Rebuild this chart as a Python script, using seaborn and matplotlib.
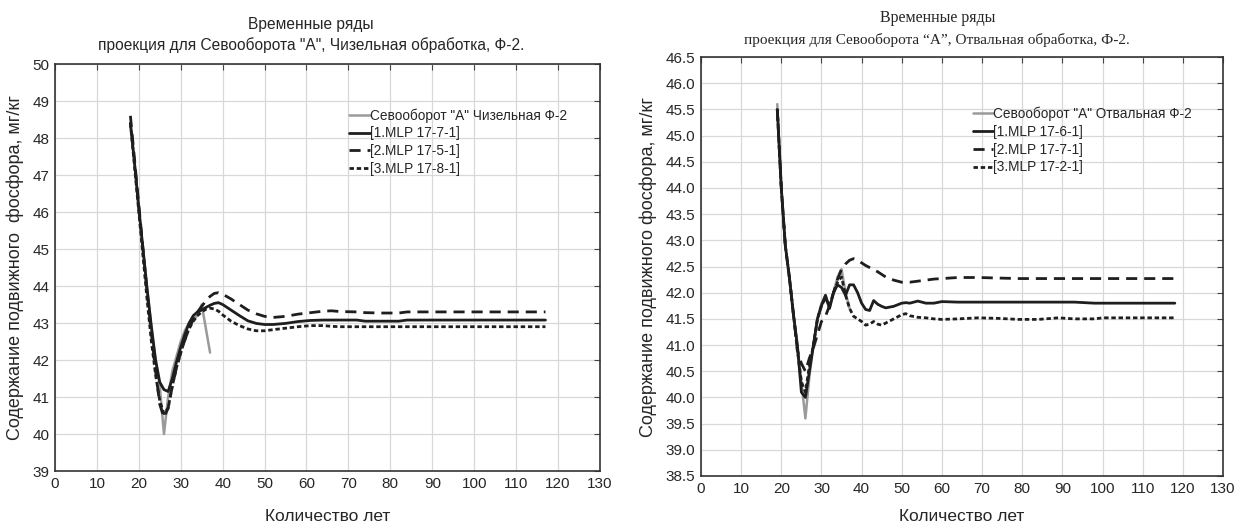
import numpy as np
import pandas as pd
import matplotlib
matplotlib.use("Agg")
import matplotlib.pyplot as plt
import seaborn as sns

# ─── DATA: left panel (Чизельная обработка) ───────────────
obs_left_x = list(range(18, 38))
obs_left_y = [48.4, 47.3, 46.1, 45.0, 43.9, 42.9, 42.0, 41.3, 40.0, 41.0,
              41.7, 42.1, 42.5, 42.8, 43.0, 43.1, 43.2, 43.5, 42.85, 42.2]

mlp_left_x = [18, 19, 20, 21, 22, 23, 24, 25, 26, 27, 28, 29, 30, 31, 32, 33,
              34, 35, 36, 37, 38, 39, 40, 42, 44, 46, 48, 50, 52, 55, 58, 61,
              64, 66, 68, 72, 74, 78, 82, 84, 90, 100, 110, 117]
mlp1_left = [48.4, 47.3, 46.1, 45.0, 43.9, 42.9, 42.0, 41.4, 41.2, 41.15, 41.5,
             41.95, 42.35, 42.7, 43.0, 43.2, 43.3, 43.35, 43.42, 43.48, 43.53,
             43.55, 43.5, 43.35, 43.2, 43.06, 42.99, 42.96, 42.96, 42.99, 43.04,
             43.07, 43.08, 43.08, 43.08, 43.08, 43.05, 43.05, 43.05, 43.08,
             43.08, 43.08, 43.08, 43.08]
mlp2_left = [48.6, 47.4, 46.2, 45.0, 43.8, 42.7, 41.7, 40.8, 40.45, 40.7, 41.3,
             41.8, 42.2, 42.55, 42.85, 43.1, 43.3, 43.45, 43.6, 43.72, 43.8,
             43.82, 43.78, 43.65, 43.5, 43.35, 43.25, 43.18, 43.15, 43.18, 43.24,
             43.28, 43.32, 43.33, 43.31, 43.3, 43.28, 43.27, 43.27, 43.3, 43.3,
             43.3, 43.3, 43.3]
mlp3_left = [48.4, 47.2, 46.0, 44.8, 43.6, 42.5, 41.6, 40.9, 40.55, 40.7, 41.3,
             41.8, 42.2, 42.55, 42.85, 43.05, 43.2, 43.3, 43.37, 43.4, 43.38,
             43.32, 43.22, 43.05, 42.93, 42.84, 42.79, 42.79, 42.82, 42.86, 42.9,
             42.93, 42.93, 42.91, 42.9, 42.9, 42.9, 42.9, 42.9, 42.9, 42.9,
             42.9, 42.9, 42.9]

# ─── DATA: right panel (Отвальная обработка) ──────────────
obs_right_x = list(range(19, 38))
obs_right_y = [45.6, 44.0, 42.9, 42.3, 41.6, 41.0, 40.3, 39.6, 40.4, 41.0,
               41.5, 41.8, 41.95, 41.7, 42.0, 42.3, 42.45, 42.0, 41.7]

mlp_right_x = [19, 20, 21, 22, 23, 24, 25, 26, 27, 28, 29, 30, 31, 32, 33, 34,
               35, 36, 37, 38, 39, 40, 41, 42, 43, 44, 45, 46, 48, 50, 51, 52,
               54, 56, 58, 60, 64, 69, 74, 79, 84, 89, 93, 98, 100, 110, 118]
mlp1_right = [45.5, 44.0, 42.9, 42.3, 41.6, 41.0, 40.1, 40.0, 40.5, 41.0, 41.5,
              41.75, 41.95, 41.7, 42.0, 42.15, 42.1, 41.95, 42.15, 42.15, 42.0,
              41.8, 41.68, 41.66, 41.85, 41.78, 41.74, 41.71, 41.74, 41.8, 41.81,
              41.8, 41.84, 41.8, 41.8, 41.83, 41.82, 41.82, 41.82, 41.82, 41.82,
              41.82, 41.82, 41.8, 41.8, 41.8, 41.8]
mlp2_right = [45.5, 44.0, 42.9, 42.3, 41.6, 40.9, 40.65, 40.5, 40.75, 40.95,
              41.2, 41.45, 41.55, 41.75, 42.0, 42.25, 42.45, 42.55, 42.62, 42.65,
              42.62, 42.57, 42.52, 42.48, 42.44, 42.4, 42.35, 42.3, 42.24, 42.2,
              42.2, 42.2, 42.22, 42.24, 42.26, 42.27, 42.29, 42.29, 42.28, 42.27,
              42.27, 42.27, 42.27, 42.27, 42.27, 42.27, 42.27]
mlp3_right = [45.5, 44.0, 42.9, 42.3, 41.6, 40.9, 40.3, 40.1, 40.6, 41.0, 41.5,
              41.75, 41.9, 41.75, 42.0, 42.2, 42.3, 41.95, 41.7, 41.55, 41.5,
              41.45, 41.38, 41.4, 41.45, 41.4, 41.38, 41.42, 41.5, 41.58, 41.6,
              41.56, 41.53, 41.52, 41.5, 41.49, 41.5, 41.52, 41.51, 41.49, 41.49,
              41.52, 41.5, 41.5, 41.52, 41.52, 41.52]

left_labels = ['Севооборот "А" Чизельная Ф-2', '[1.MLP 17-7-1]',
               '[2.MLP 17-5-1]', '[3.MLP 17-8-1]']
right_labels = ['Севооборот "А" Отвальная Ф-2', '[1.MLP 17-6-1]',
                '[2.MLP 17-7-1]', '[3.MLP 17-2-1]']

# ─── STYLE ────────────────────────────────────────────────
sns.set_style("whitegrid", {"grid.color": "#d8d8d8", "axes.edgecolor": "#333333",
                            "xtick.direction": "in", "ytick.direction": "in"})
SANS = ['Liberation Sans', 'DejaVu Sans']
SERIF = ['Liberation Serif', 'DejaVu Serif']
plt.rcParams['font.family'] = SANS

GREY = "#9a9a9a"
BLACK = "#1e1e1e"
DASH = (4, 2.5)
DOT = (1.6, 1.0)


def draw_panel(ax, ox, oy, mx, m1, m2, m3, labels):
    sns.lineplot(x=ox, y=oy, ax=ax, color=GREY, lw=1.8, label=labels[0])
    sns.lineplot(x=mx, y=m1, ax=ax, color=BLACK, lw=2.0, label=labels[1])
    l2 = sns.lineplot(x=mx, y=m2, ax=ax, color=BLACK, lw=2.0, label=labels[2]).lines[-1]
    l2.set_dashes(DASH)
    l3 = sns.lineplot(x=mx, y=m3, ax=ax, color=BLACK, lw=2.0, label=labels[3]).lines[-1]
    l3.set_dashes(DOT)
    ax.set_xlim(0, 130)
    ax.set_xticks(np.arange(0, 131, 10))
    for sp in ax.spines.values():
        sp.set_linewidth(1.2)
    ax.tick_params(axis='both', which='both', direction='in', length=4,
                   top=True, right=True, labelsize=11, color="#444444", pad=4)
    ax.grid(True, lw=0.9)


fig = plt.figure(figsize=(12.35, 5.29), dpi=100)
ax1 = fig.add_axes([0.0445, 0.1096, 0.4413, 0.7694])
ax2 = fig.add_axes([0.5676, 0.1002, 0.4227, 0.792])

draw_panel(ax1, obs_left_x, obs_left_y, mlp_left_x, mlp1_left, mlp2_left,
           mlp3_left, left_labels)
ax1.set_ylim(39, 50)
ax1.set_yticks(np.arange(39, 51, 1))

draw_panel(ax2, obs_right_x, obs_right_y, mlp_right_x, mlp1_right, mlp2_right,
           mlp3_right, right_labels)
ax2.set_ylim(38.5, 46.5)
ax2.set_yticks(np.arange(38.5, 46.6, 0.5))
ax2.yaxis.set_major_formatter(matplotlib.ticker.FormatStrFormatter('%.1f'))

# legends
for ax, anchor in [(ax1, (0.53, 0.905)), (ax2, (0.51, 0.895))]:
    ax.legend(loc='upper left', bbox_to_anchor=anchor, frameon=False,
              handlelength=1.5, handletextpad=0.0, labelspacing=0.28,
              borderaxespad=0, prop={'family': SANS, 'size': 9.8})

# titles
fig.text(0.252, 0.953, 'Временные ряды', ha='center', va='center',
         fontsize=11.2, family=SANS)
fig.text(0.252, 0.914, 'проекция для Севооборота "А", Чизельная обработка, Ф-2.',
         ha='center', va='center', fontsize=11.2, family=SANS)
fig.text(0.759, 0.966, 'Временные ряды', ha='center', va='center',
         fontsize=11.5, family=SERIF)
fig.text(0.759, 0.925, 'проекция для Севооборота \u201cА\u201d, Отвальная обработка, Ф-2.',
         ha='center', va='center', fontsize=11, family=SERIF)

# axis labels
ax1.set_xlabel('Количество лет', fontsize=12.5, labelpad=13)
ax1.set_ylabel('Содержание подвижного  фосфора, мг/кг', fontsize=13, labelpad=6)
ax2.set_xlabel('Количество лет', fontsize=12.5, labelpad=10)
ax2.set_ylabel('Содержание подвижного фосфора, мг/кг', fontsize=13, labelpad=6)

fig.savefig('out.png', dpi=100)
